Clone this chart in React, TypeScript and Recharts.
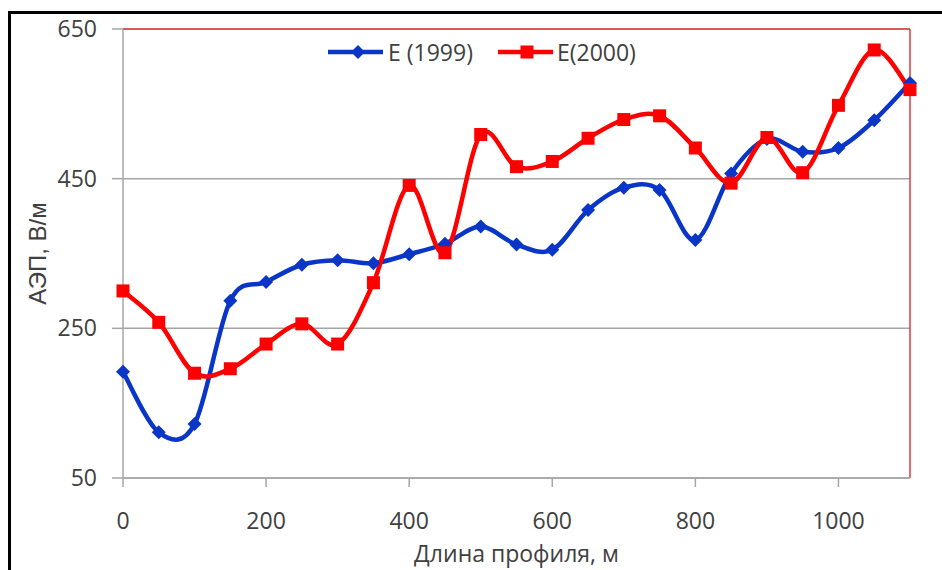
import React from "react";
import {
  LineChart,
  Line,
  XAxis,
  YAxis,
  CartesianGrid,
  ReferenceLine,
} from "recharts";

// Profile distance, m
const distances = [
  0, 50, 100, 150, 200, 250, 300, 350, 400, 450, 500, 550, 600, 650, 700, 750,
  800, 850, 900, 950, 1000, 1050, 1100,
];

// АЭП, В/м — survey of 1999
const e1999 = [
  192, 111, 122, 287, 312, 335, 341, 337, 349, 363, 386, 362, 355, 408, 438,
  435, 368, 457, 503, 486, 491, 528, 578,
];

// АЭП, В/м — survey of 2000
const e2000 = [
  300, 258, 190, 196, 229, 256, 229, 311, 441, 351, 509, 466, 473, 504, 529,
  534, 491, 444, 505, 458, 548, 622, 569,
];

const xTicks = [0, 200, 400, 600, 800, 1000];
const yTicks = [50, 250, 450, 650];

const BLUE = "#0A36C8";
const RED = "#FF0000";
const GRID = "#A6A6A6";
const TEXT = "#404040";
const FONT = "'Open Sans', sans-serif";

const data = distances.map((x, i) => ({ x, a: e1999[i], b: e2000[i] }));

// Catmull-Rom style smoothing, like spreadsheet "smoothed line" charts
const smoothCurve = (context: any) => {
  let pts: number[][] = [];
  return {
    areaStart() {},
    areaEnd() {},
    lineStart() {
      pts = [];
    },
    point(x: number, y: number) {
      pts.push([+x, +y]);
    },
    lineEnd() {
      const n = pts.length;
      if (!n) return;
      context.moveTo(pts[0][0], pts[0][1]);
      for (let i = 0; i < n - 1; i++) {
        const p0 = pts[Math.max(i - 1, 0)];
        const p1 = pts[i];
        const p2 = pts[i + 1];
        const p3 = pts[Math.min(i + 2, n - 1)];
        context.bezierCurveTo(
          p1[0] + (p2[0] - p0[0]) / 6,
          p1[1] + (p2[1] - p0[1]) / 6,
          p2[0] - (p3[0] - p1[0]) / 6,
          p2[1] - (p3[1] - p1[1]) / 6,
          p2[0],
          p2[1]
        );
      }
    },
  };
};

const Diamond = ({ cx, cy, size = 7, color = BLUE }: any) =>
  cx == null || cy == null ? null : (
    <path
      d={`M${cx},${cy - size} L${cx + size},${cy} L${cx},${cy + size} L${cx - size},${cy} Z`}
      fill={color}
    />
  );

const Square = ({ cx, cy, size = 6.5, color = RED }: any) =>
  cx == null || cy == null ? null : (
    <rect x={cx - size} y={cy - size} width={size * 2} height={size * 2} fill={color} />
  );

const ChartLegend = () => (
  <div
    style={{
      position: "absolute",
      left: 328,
      top: 38,
      display: "flex",
      alignItems: "center",
      fontFamily: FONT,
      fontSize: 23,
      lineHeight: "28px",
      color: TEXT,
      whiteSpace: "nowrap",
    }}
  >
    <svg width={55} height={20}>
      <line x1={0} y1={10} x2={55} y2={10} stroke={BLUE} strokeWidth={4.5} />
      <Diamond cx={30} cy={10} />
    </svg>
    <span style={{ marginLeft: 5 }}>E (1999)</span>
    <svg width={55} height={20} style={{ marginLeft: 25 }}>
      <line x1={0} y1={10} x2={55} y2={10} stroke={RED} strokeWidth={4.5} />
      <Square cx={29} cy={10} />
    </svg>
    <span style={{ marginLeft: 4 }}>E(2000)</span>
  </div>
);

const XTitle = ({ viewBox }: any) => (
  <text
    x={viewBox.x + viewBox.width / 2}
    y={viewBox.y + 84}
    textAnchor="middle"
    fontFamily={FONT}
    fontSize={23}
    fill={TEXT}
  >
    Длина профиля, м
  </text>
);

const YTitle = ({ viewBox }: any) => (
  <text
    transform={`translate(${viewBox.x + 29}, ${viewBox.y + viewBox.height / 2}) rotate(-90)`}
    textAnchor="middle"
    dy="0.36em"
    fontFamily="'Liberation Sans', Arial, sans-serif"
    fontSize={24}
    fill={TEXT}
  >
    АЭП, В/м
  </text>
);

export default function App() {
  return (
    <div
      style={{
        position: "absolute",
        left: 0,
        top: 0,
        width: 942,
        height: 570,
        background: "#fff",
        overflow: "hidden",
      }}
    >
      <div
        style={{
          position: "absolute",
          left: 8,
          top: 11,
          width: 1000,
          height: 700,
          borderLeft: "3px solid #000",
          borderTop: "3px solid #000",
        }}
      />
      <div style={{ position: "absolute", left: 0, top: 0 }}>
        <LineChart
          width={942}
          height={570}
          data={data}
          margin={{ top: 29, right: 32, left: 8, bottom: 0 }}
        >
          <CartesianGrid
            horizontal
            vertical={false}
            stroke={GRID}
            strokeWidth={1.5}
          />
          <XAxis
            dataKey="x"
            type="number"
            domain={[0, 1100]}
            ticks={xTicks}
            height={92}
            tickSize={9}
            tickMargin={26}
            axisLine={{ stroke: GRID, strokeWidth: 1.5 }}
            tickLine={{ stroke: GRID, strokeWidth: 1.5 }}
            tick={{ fontFamily: FONT, fontSize: 23, fill: TEXT }}
            label={{ content: XTitle }}
          />
          <YAxis
            type="number"
            domain={[50, 650]}
            ticks={yTicks}
            width={115}
            tickSize={11}
            tickMargin={15}
            axisLine={{ stroke: GRID, strokeWidth: 1.5 }}
            tickLine={{ stroke: GRID, strokeWidth: 1.5 }}
            tick={{ fontFamily: FONT, fontSize: 23, fill: TEXT }}
            label={{ content: YTitle }}
          />
          <ReferenceLine y={650} stroke="#E0383C" strokeWidth={1.5} />
          <ReferenceLine x={1100} stroke="#E0383C" strokeWidth={1.5} />
          <Line
            dataKey="a"
            name="E (1999)"
            type={smoothCurve as any}
            stroke={BLUE}
            strokeWidth={4.5}
            dot={(p: any) => <Diamond key={`a${p.index}`} cx={p.cx} cy={p.cy} />}
            activeDot={false}
            isAnimationActive={false}
          />
          <Line
            dataKey="b"
            name="E(2000)"
            type={smoothCurve as any}
            stroke={RED}
            strokeWidth={4.5}
            dot={(p: any) => <Square key={`b${p.index}`} cx={p.cx} cy={p.cy} />}
            activeDot={false}
            isAnimationActive={false}
          />
        </LineChart>
      </div>
      <ChartLegend />
    </div>
  );
}
